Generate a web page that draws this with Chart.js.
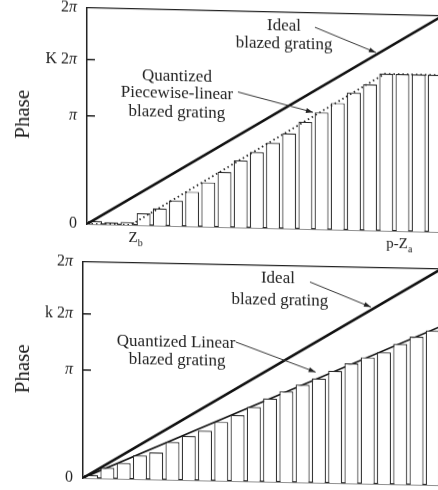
<!DOCTYPE html>
<html>
<head>
<meta charset="utf-8">
<script src="https://cdn.jsdelivr.net/npm/chart.js@4.4.1/dist/chart.umd.min.js"></script>
<style>
  html, body { margin: 0; padding: 0; background: #fff; width: 438px; height: 490px; overflow: hidden; }
  #wrap { position: relative; width: 438px; height: 490px; overflow: hidden; }
  canvas { position: absolute; left: 0; }
  /* the scanned figure is slightly skewed */
  #topChart { top: -12px; transform: skewY(1.3deg); transform-origin: 87px 236px; }
  #bottomChart { top: 240px; transform: skewY(1.15deg); transform-origin: 83px 238px; }
</style>
</head>
<body>
<div id="wrap">
  <canvas id="topChart" width="460" height="264"></canvas>
  <canvas id="bottomChart" width="460" height="262"></canvas>
</div>
<script>
// phase of each grating zone, in units of pi
const zoneMax = 22;
const topPhase = [0.03, 0.02, 0.025, 0.11, 0.16, 0.235, 0.32, 0.41, 0.51, 0.62, 0.70,
                  0.79, 0.88, 0.99, 1.08, 1.17, 1.27, 1.35, 1.45, 1.45, 1.45, 1.45];
const bottomPhase = [0.03, 0.10, 0.145, 0.22, 0.25, 0.35, 0.41, 0.46, 0.545, 0.61, 0.69,
                     0.77, 0.84, 0.905, 0.965, 1.04, 1.11, 1.17, 1.22, 1.30, 1.37, 1.43];

// ideal blazed grating
const idealX = [0, 22];
const idealPhase = [0, 2];
// piecewise-linear profile: 0, Zb, p-Za, end
const pwX = [0, 2.7, 18.4, 22];
const pwPhase = [0, 0, 1.45, 1.45];
// linear profile
const linX = [0, 22];
const linPhase = [0, 1.47];

const yTickVals = [0, 1, 1.52, 2];
const topTickLabels = ['0', 'π', 'K 2π', '2π'];
const bottomTickLabels = ['0', 'π', 'k 2π', '2π'];

const serif = "'Liberation Serif', 'DejaVu Serif', serif";
Chart.defaults.font.family = serif;
Chart.defaults.color = '#222';

const pts = (xs, ys) => xs.map((x, i) => ({ x: x, y: ys[i] }));
const zones = vals => vals.map((v, i) => ({ x: i + 0.5, y: v }));

// labels, arrows and inner ticks drawn on top of the plot
function decorPlugin(tickLabels, notes, arrows, edgeLabels) {
  return {
    id: 'decor',
    afterDraw(chart) {
      const { ctx, chartArea, scales } = chart;
      const xs = scales.x, ys = scales.y;
      ctx.save();
      // inner tick marks
      ctx.strokeStyle = '#222';
      ctx.lineWidth = 1.5;
      yTickVals.forEach(v => {
        if (v === 0 || v === 2) return;
        const py = ys.getPixelForValue(v);
        ctx.beginPath();
        ctx.moveTo(chartArea.left, py);
        ctx.lineTo(chartArea.left + 8, py);
        ctx.stroke();
      });
      // tick labels, pi in italic
      ctx.fillStyle = '#222';
      ctx.textBaseline = 'middle';
      ctx.textAlign = 'left';
      yTickVals.forEach((v, i) => {
        const py = ys.getPixelForValue(v);
        const parts = tickLabels[i].split(/(π)/).filter(p => p);
        const fonts = parts.map(p => (p === 'π' ? 'italic ' : '') + '16px ' + serif);
        let w = 0;
        parts.forEach((p, j) => { ctx.font = fonts[j]; w += ctx.measureText(p).width; });
        let x = chartArea.left - 10 - w;
        parts.forEach((p, j) => {
          ctx.font = fonts[j];
          ctx.fillText(p, x, py);
          x += ctx.measureText(p).width;
        });
      });
      // text notes
      ctx.font = '17px ' + serif;
      ctx.textAlign = 'center';
      notes.forEach(n => ctx.fillText(n.text, xs.getPixelForValue(n.x), ys.getPixelForValue(n.y)));
      // arrows
      ctx.strokeStyle = '#333';
      ctx.lineWidth = 1;
      arrows.forEach(a => {
        const x1 = xs.getPixelForValue(a.from[0]), y1 = ys.getPixelForValue(a.from[1]);
        const x2 = xs.getPixelForValue(a.to[0]), y2 = ys.getPixelForValue(a.to[1]);
        const ang = Math.atan2(y2 - y1, x2 - x1);
        ctx.beginPath();
        ctx.moveTo(x1, y1);
        ctx.lineTo(x2, y2);
        ctx.stroke();
        ctx.beginPath();
        ctx.moveTo(x2, y2);
        ctx.lineTo(x2 - 7 * Math.cos(ang) + 2.5 * Math.sin(ang), y2 - 7 * Math.sin(ang) - 2.5 * Math.cos(ang));
        ctx.lineTo(x2 - 7 * Math.cos(ang) - 2.5 * Math.sin(ang), y2 - 7 * Math.sin(ang) + 2.5 * Math.cos(ang));
        ctx.closePath();
        ctx.fill();
      });
      // labels under the x axis, with subscripts
      edgeLabels.forEach(l => {
        const px = xs.getPixelForValue(l.x), py = chartArea.bottom + 13;
        ctx.font = '15px ' + serif;
        const w1 = ctx.measureText(l.main).width;
        ctx.font = '10px ' + serif;
        const w2 = ctx.measureText(l.sub).width;
        const left = px - (w1 + w2) / 2;
        ctx.textAlign = 'left';
        ctx.font = '15px ' + serif;
        ctx.fillText(l.main, left, py);
        ctx.font = '10px ' + serif;
        ctx.fillText(l.sub, left + w1, py + 5);
      });
      ctx.restore();
    }
  };
}

function makeChart(id, cfg) {
  const axisBorder = { display: true, color: '#222', width: 1.5 };
  new Chart(document.getElementById(id), {
    type: 'bar',
    data: { datasets: cfg.datasets },
    options: {
      responsive: false,
      animation: false,
      layout: { padding: { top: cfg.padTop, right: cfg.padRight, left: 0, bottom: 0 } },
      plugins: { legend: { display: false }, tooltip: { enabled: false } },
      scales: {
        x: {
          type: 'linear', min: 0, max: zoneMax, offset: false,
          grid: { display: false, offset: false, drawTicks: false },
          ticks: { display: false },
          border: axisBorder,
          afterFit: s => { s.height = cfg.xHeight; }
        },
        xTop: {
          type: 'linear', position: 'top', min: 0, max: zoneMax,
          grid: { display: false, drawTicks: false },
          ticks: { display: false },
          border: { display: true, color: '#222', width: 1.3 },
          afterFit: s => { s.height = 0; }
        },
        y: {
          min: 0, max: 2,
          afterBuildTicks: s => { s.ticks = yTickVals.map(v => ({ value: v })); },
          grid: { display: false, drawTicks: false },
          border: axisBorder,
          ticks: {
            padding: 10,
            color: 'rgba(0,0,0,0)', // drawn by the decor plugin
            font: { size: 16 },
            callback: v => cfg.tickLabels[yTickVals.indexOf(v)]
          },
          title: { display: true, text: 'Phase', color: '#222', font: { size: 21 }, padding: { top: 11, bottom: 0 } },
          afterFit: s => { s.width = cfg.yWidth; }
        }
      }
    },
    plugins: [decorPlugin(cfg.tickLabels, cfg.notes, cfg.arrows, cfg.edgeLabels)]
  });
}

const barStyle = {
  type: 'bar', xAxisID: 'x', backgroundColor: '#fff', borderColor: '#2a2a2a',
  borderWidth: 1.2, categoryPercentage: 1, barPercentage: 0.86
};
const lineStyle = { type: 'line', xAxisID: 'x', pointRadius: 0, fill: false, tension: 0 };

makeChart('topChart', {
  padTop: 15, padRight: 17, xHeight: 28, yWidth: 87,
  tickLabels: topTickLabels,
  datasets: [
    Object.assign({}, lineStyle, { data: pts(idealX, idealPhase), borderColor: '#111', borderWidth: 2.6, order: 0 }),
    Object.assign({}, lineStyle, { data: pts(pwX, pwPhase), borderColor: '#222', borderWidth: 1.8, borderDash: [1.5, 3], order: 1 }),
    Object.assign({}, barStyle, { data: zones(topPhase), order: 2 })
  ],
  notes: [
    { text: 'Ideal', x: 12.18, y: 1.87 },
    { text: 'blazed grating', x: 12.18, y: 1.706 },
    { text: 'Quantized', x: 5.56, y: 1.386 },
    { text: 'Piecewise-linear', x: 5.56, y: 1.223 },
    { text: 'blazed grating', x: 5.56, y: 1.051 }
  ],
  arrows: [
    { from: [14.09, 1.866], to: [17.86, 1.645] },
    { from: [9.33, 1.252], to: [13.97, 1.08] }
  ],
  edgeLabels: [
    { main: 'Z', sub: 'b', x: 3.0 },
    { main: 'p-Z', sub: 'a', x: 19.3 }
  ]
});

makeChart('bottomChart', {
  padTop: 22, padRight: 19, xHeight: 24, yWidth: 83,
  tickLabels: bottomTickLabels,
  datasets: [
    Object.assign({}, lineStyle, { data: pts(idealX, idealPhase), borderColor: '#111', borderWidth: 2.6, order: 0 }),
    Object.assign({}, barStyle, { data: zones(bottomPhase), order: 1 }),
    Object.assign({}, lineStyle, { data: pts(linX, linPhase), borderColor: '#111', borderWidth: 1.6, order: 2 })
  ],
  notes: [
    { text: 'Ideal', x: 11.98, y: 1.887 },
    { text: 'blazed grating', x: 12.1, y: 1.684 },
    { text: 'Quantized Linear', x: 5.72, y: 1.276 },
    { text: 'blazed grating', x: 5.78, y: 1.11 }
  ],
  arrows: [
    { from: [13.95, 1.857], to: [17.7, 1.636] },
    { from: [9.4, 1.287], to: [14.3, 1.024] }
  ],
  edgeLabels: []
});
</script>
</body>
</html>
